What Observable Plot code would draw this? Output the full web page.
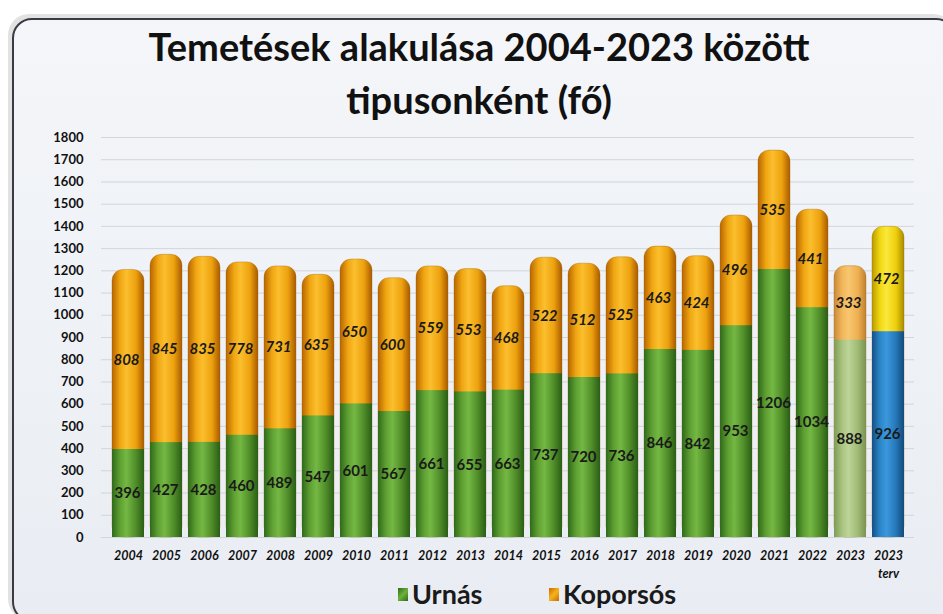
<!DOCTYPE html>
<html>
<head>
<meta charset="utf-8">
<script src="https://cdn.jsdelivr.net/npm/d3@7"></script>
<script src="https://cdn.jsdelivr.net/npm/@observablehq/plot@0.6"></script>
<style>
  html, body { margin: 0; padding: 0; background: #ffffff; }
  body { width: 943px; height: 614px; position: relative; overflow: hidden; font-family: Lato, "Open Sans", sans-serif; }
  #frame { position: absolute; left: 12px; top: 18px; width: 940px; height: 600px; border: 2px solid #3a3a44; border-radius: 20px; background: linear-gradient(#f4f6f9, #e9edf3); box-shadow: -3px -3px 0 1px #e2e2e2; }
  #title { position: absolute; left: 0; top: 20px; width: 958px; text-align: center; font-weight: 700; font-size: 38px; line-height: 53px; color: #111; }
  #chart { position: absolute; left: 0; top: 125px; }
  #legend { position: absolute; left: 0; top: 577px; width: 943px; height: 34px; font-size: 27px; font-weight: 700; color: #1a1a1a; }
  #legend span.item { position: absolute; top: 0; display: flex; align-items: center; gap: 4px; line-height: 34px; }
  #legend i { display: inline-block; width: 10px; height: 13px; }
</style>
</head>
<body>
<div id="frame"></div>
<div id="title">Temetések alakulása 2004-2023 között<br>tipusonként (fő)</div>
<div id="chart"></div>
<div id="legend">
  <span class="item" style="left: 398px"><i style="background: linear-gradient(135deg,#2f6a1a,#6cb23a 50%,#2f6a1a)"></i>Urnás</span>
  <span class="item" style="left: 549px"><i style="background: linear-gradient(135deg,#c86a00,#f7b41c 50%,#c86a00)"></i>Koporsós</span>
</div>
<script>
const years = ["2004","2005","2006","2007","2008","2009","2010","2011","2012","2013","2014","2015","2016","2017","2018","2019","2020","2021","2022","2023","2023 terv"];
const urnas = [396,427,428,460,489,547,601,567,661,655,663,737,720,736,846,842,953,1206,1034,888,926];
const koporsos = [808,845,835,778,731,635,650,600,559,553,468,522,512,525,463,424,496,535,441,333,472];
const yTicks = d3.range(0, 1801, 100);

const rows = years.map((year, i) => ({
  year, i,
  urn: urnas[i],
  kop: koporsos[i],
  total: urnas[i] + koporsos[i]
}));

const lastIdx = years.length - 1;
const actualIdx = years.length - 2;
const urnFill = d => d.i === lastIdx ? "url(#gBlue)" : d.i === actualIdx ? "url(#gLightGreen)" : "url(#gGreen)";
const kopFill = d => d.i === lastIdx ? "url(#gYellow)" : d.i === actualIdx ? "url(#gLightOrange)" : "url(#gOrange)";

const chart = Plot.plot({
  width: 943,
  height: 465,
  marginLeft: 101,
  marginRight: 29,
  marginTop: 12,
  marginBottom: 53,
  style: { background: "transparent", fontFamily: "Lato, sans-serif", color: "#111", overflow: "visible" },
  color: { type: "identity" },
  x: { domain: years, padding: 0.17, label: null },
  y: { domain: [0, 1800], label: null },
  marks: [
    Plot.gridY(yTicks, { stroke: "#c9ced6", strokeOpacity: 0.8, strokeWidth: 1 }),
    Plot.axisY({ ticks: yTicks, tickSize: 0, tickPadding: 18, fontSize: 13, fontWeight: "bold", label: null, tickFormat: d => String(d) }),
    Plot.axisX({ tickSize: 0, tickPadding: 10, fontSize: 12.5, fontWeight: "bold", fontStyle: "italic", label: null, lineHeight: 1.45,
      tickFormat: d => d === "2023 terv" ? "2023\nterv" : d }),
    Plot.barY(rows, { x: "year", y: "total", fill: kopFill, rx: 11, stroke: "#a06400", strokeOpacity: 0.35 }),
    Plot.barY(rows, { x: "year", y: "urn", fill: urnFill }),
    Plot.text(rows, { x: "year", y: d => d.urn + d.kop / 2, text: d => String(d.kop), fontSize: 15, fontWeight: "bold", fontStyle: "italic", fill: "#1a1a1a", dx: -2 }),
    Plot.text(rows, { x: "year", y: d => d.urn / 2, text: d => String(d.urn), fontSize: 15, fontWeight: "bold", fill: "#1a1a1a", dx: -1 })
  ]
});

const defs = d3.select(chart).insert("defs", ":first-child");
const grads = {
  gGreen: ["#2f6a1a", "#5fa032", "#74b844", "#4f8c28", "#2a5e16"],
  gOrange: ["#b86500", "#f0a612", "#fbbf2e", "#eda10e", "#a85a00"],
  gLightGreen: ["#7f9a55", "#a9c47f", "#bdd498", "#9fba74", "#7a9350"],
  gLightOrange: ["#c8893a", "#f1b658", "#f8c670", "#eeb050", "#c08033"],
  gBlue: ["#154f85", "#2a86c8", "#3c98dc", "#2478b8", "#134a7c"],
  gYellow: ["#b89a00", "#f2d812", "#fbe83a", "#eecf0c", "#a88c00"]
};
for (const [id, stops] of Object.entries(grads)) {
  const g = defs.append("linearGradient").attr("id", id).attr("x1", "0").attr("x2", "1").attr("y1", "0").attr("y2", "0");
  const offs = [0, 0.25, 0.45, 0.75, 1];
  stops.forEach((c, k) => g.append("stop").attr("offset", offs[k]).attr("stop-color", c));
}
document.getElementById("chart").appendChild(chart);
</script>
</body>
</html>
